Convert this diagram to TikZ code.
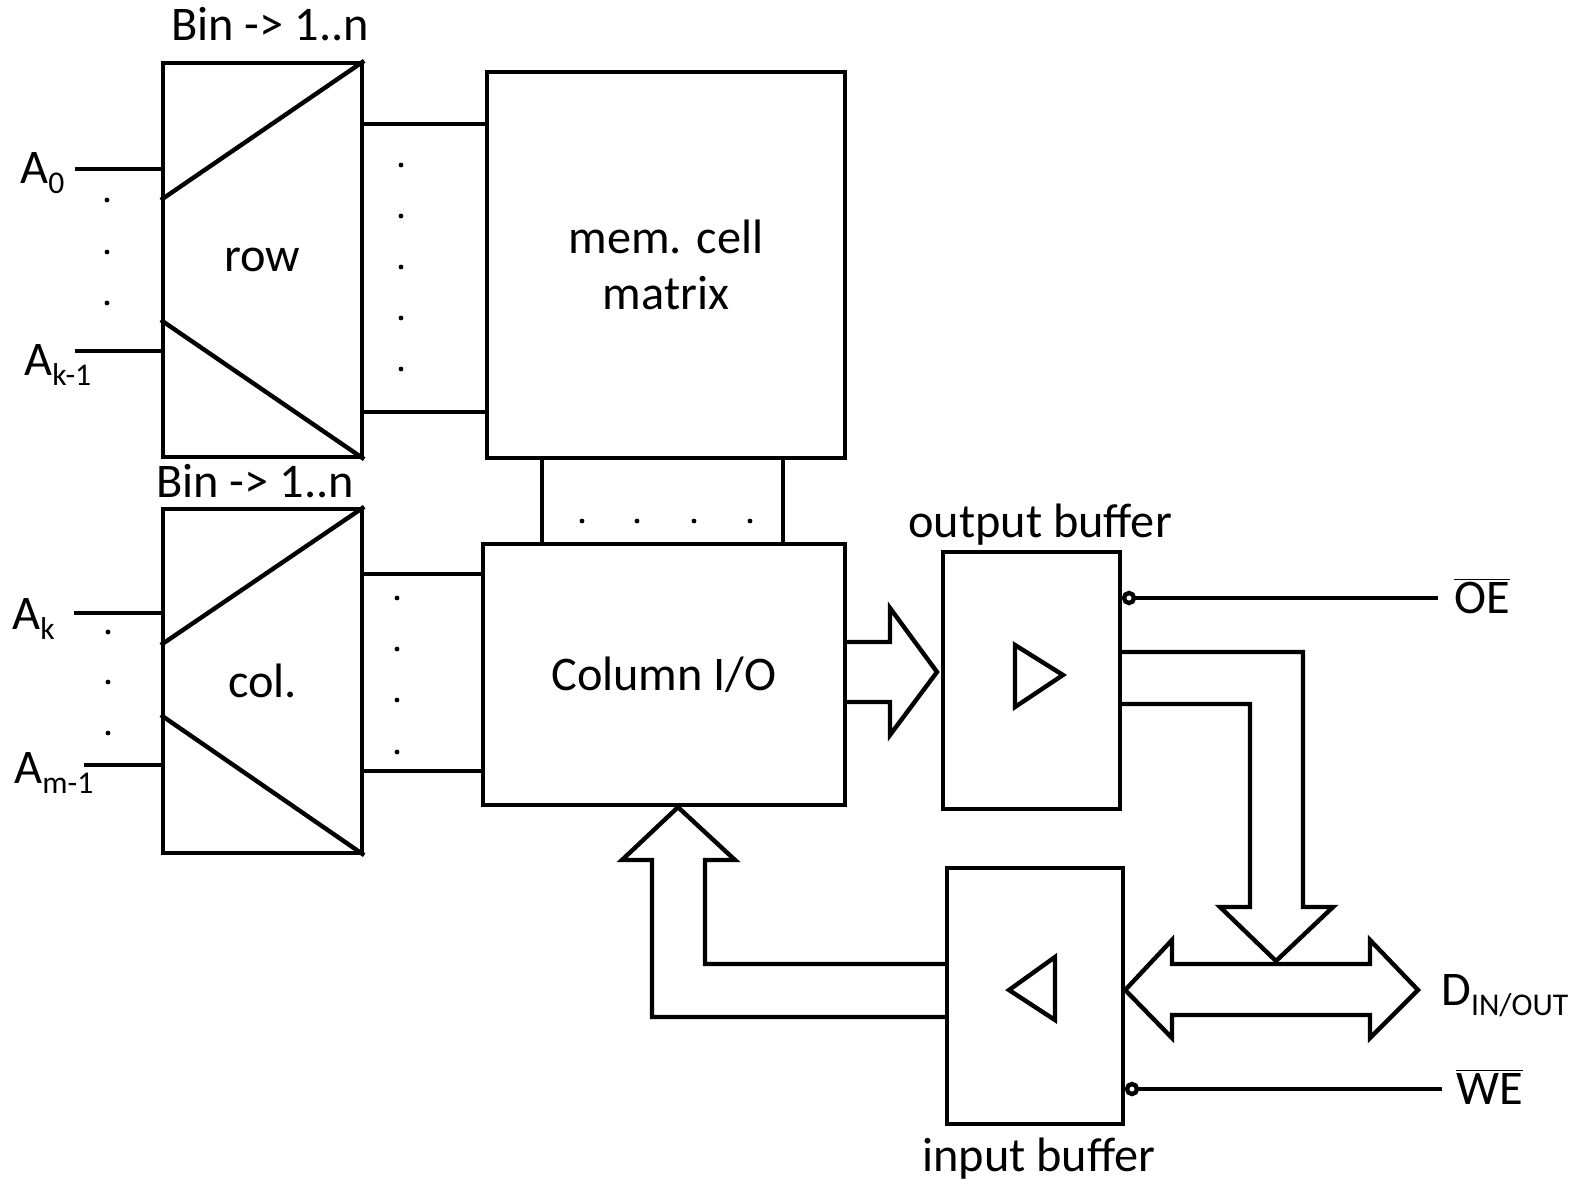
\documentclass[tikz,border=0pt]{standalone}
\usepackage{fontspec}
\setmainfont{Carlito}
\usetikzlibrary{positioning,calc}
\newcommand\lowidx[1]{\raisebox{-6pt}{\fontsize{18}{18}\selectfont #1}}
\tikzset{
  blk/.style   ={draw=black, fill=white, line width=2.5pt, inner sep=0pt,
                 font=\fontsize{27.5}{32}\selectfont, align=center},
  wire/.style  ={line width=2.5pt},
  fat/.style   ={line width=2.5pt, line join=miter},
  lbl/.style   ={font=\fontsize{27.5}{32}\selectfont, anchor=base west, inner sep=0pt},
  dotmark/.style={fill=black, draw=none},
}
\begin{document}
\begin{tikzpicture}[x=0.02cm,y=-0.02cm]
  \useasboundingbox (0,0) rectangle (1579,1184);

  % decoders and blocks
  \node[blk,minimum width=3.98cm,minimum height=7.88cm] (row) at (262.5,260) {row};
  \node[blk,minimum width=3.98cm,minimum height=6.88cm] (col) at (262.5,681) {col.};
  \node[blk,minimum width=7.16cm,minimum height=7.72cm] (mat) at (666,265) {mem. cell\\matrix};
  \node[blk,minimum width=7.24cm,minimum height=5.22cm] (cio) at (664,674.5) {Column I/O};
  \node[blk,minimum width=3.54cm,minimum height=5.14cm] (obuf) at (1031.5,680.5) {};
  \node[blk,minimum width=3.52cm,minimum height=5.12cm] (ibuf) at (1035,996) {};

  \draw[wire] (row.north east) -- (row.west |- 0,200);
  \draw[wire] (row.south east) -- (row.west |- 0,320);
  \draw[wire] (col.north east) -- (col.west |- 0,645);
  \draw[wire] (col.south east) -- (col.west |- 0,715);

  % texts
  \node[lbl] (binrow) at (171,40) {Bin -> 1..n};
  \node[lbl] (bincol) at (156,497) {Bin -> 1..n};
  \node[lbl] (obuflbl) at (908,537) {output buffer};
  \node[lbl] (ibuflbl) at (922,1171) {input buffer};
  \node[lbl] (a0) at (20,183) {A\lowidx{0}};
  \node[lbl] (ak1) at (24,375) {A\lowidx{k-1}};
  \node[lbl] (ak) at (12,629) {A\lowidx{k}};
  \node[lbl] (am1) at (14,783) {A\lowidx{m-1}};
  \node[lbl] (oe) at (1454,613) {$\overline{\mbox{OE}}$};
  \node[lbl] (we) at (1456,1104) {$\overline{\mbox{WE}}$};
  \node[lbl] (dio) at (1441,1005) {D\lowidx{IN/OUT}};

  % address inputs
  \draw[wire] (75,169) -- (row.west |- 0,169);
  \draw[wire] (75,351) -- (row.west |- 0,351);
  \draw[wire] (74,613) -- (col.west |- 0,613);
  \draw[wire] (84,765) -- (col.west |- 0,765);
  \foreach \y in {200,252,303} \fill[dotmark] (107,\y) circle (2.4);
  \foreach \y in {632,682,733} \fill[dotmark] (108,\y) circle (2.4);

  % decoder outputs
  \draw[wire] (row.east |- 0,124) -- (mat.west |- 0,124);
  \draw[wire] (row.east |- 0,412) -- (mat.west |- 0,412);
  \foreach \y in {165,216,267,318,369} \fill[dotmark] (401,\y) circle (2.4);
  \draw[wire] (col.east |- 0,574) -- (cio.west |- 0,574);
  \draw[wire] (col.east |- 0,771) -- (cio.west |- 0,771);
  \foreach \y in {598,649,700,752} \fill[dotmark] (397,\y) circle (2.4);

  % matrix to column I/O
  \draw[wire] (mat.south -| 542,0) -- (cio.north -| 542,0);
  \draw[wire] (mat.south -| 783,0) -- (cio.north -| 783,0);
  \foreach \x in {582,637,694,750} \fill[dotmark] (\x,521) circle (2.4);

  % buffer symbols
  \draw[fat] (1015,645) -- (1063,675) -- (1015,707) -- cycle;
  \draw[fat] (1055,957) -- (1009,990) -- (1055,1020) -- cycle;

  % control inputs
  \draw[wire] (1129,598) circle (5);
  \draw[wire] (1134,598) -- (1438,598);
  \draw[wire] (1132,1089) circle (5);
  \draw[wire] (1137,1089) -- (1442,1089);

  % bus arrows
  \draw[fat] (cio.east |- 0,642) -- (890,642) -- (890,608) -- (937,672)
    -- (890,735) -- (890,702) -- (cio.east |- 0,702);
  \draw[fat] (obuf.east |- 0,652) -- (1303,652) -- (1303,907) -- (1333,907)
    -- (1276,961) -- (1220,907) -- (1250,907) -- (1250,704) -- (obuf.east |- 0,704);
  \draw[fat] (ibuf.east |- 0,990) -- (1172,940) -- (1172,964) -- (1370,964)
    -- (1370,940) -- (1418,990) -- (1370,1038) -- (1370,1015) -- (1172,1015)
    -- (1172,1038) -- cycle;
  \draw[fat] (ibuf.west |- 0,964) -- (705,964) -- (705,860) -- (735,860)
    -- (cio.south -| 678,0) -- (622,860) -- (652,860) -- (652,1017) -- (ibuf.west |- 0,1017);
\end{tikzpicture}
\end{document}
